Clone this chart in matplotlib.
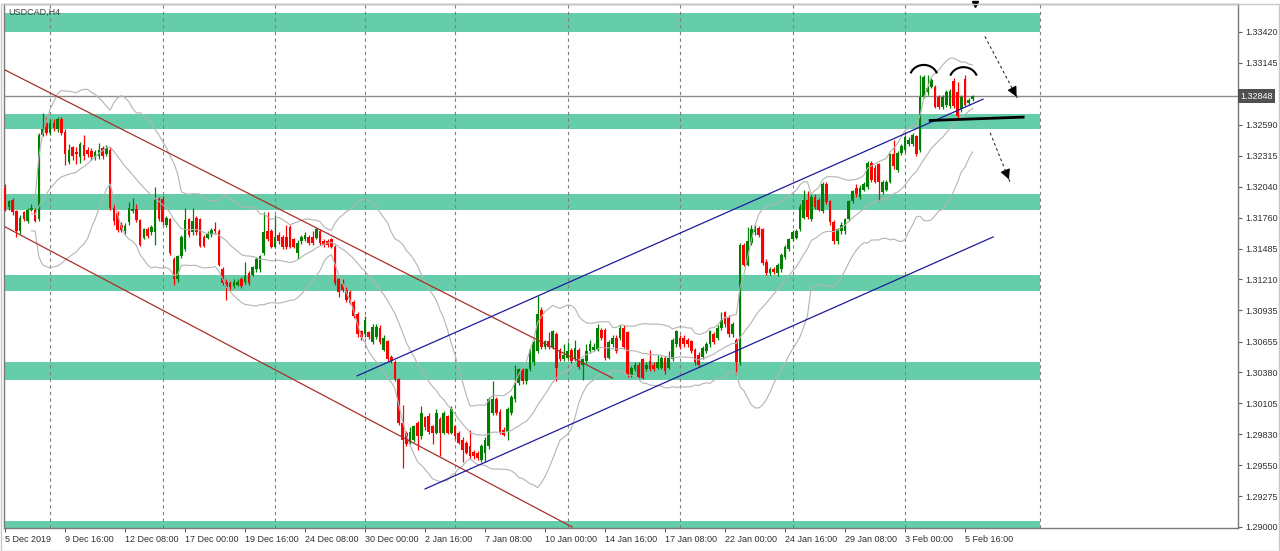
"""
USDCAD H4 chart with support/resistance zones, trend channels and Bollinger bands.
"""

import matplotlib
matplotlib.use("Agg")
import matplotlib.pyplot as plt
import matplotlib.transforms as mtransforms
from matplotlib.patches import Rectangle
import numpy as np
import pandas as pd

plt.rcParams["font.family"] = ["Liberation Sans", "DejaVu Sans"]

SYMBOL = "USDCAD,H4"
LAST_PRICE = 1.32848

# H4 candles, 5 Dec 2019 00:00 .. 6 Feb 2020 00:00
open_prices = [
    1.3203, 1.3186, 1.3192, 1.3182, 1.3164, 1.3181, 1.3173, 1.3183, 1.3183, 1.3175,
    1.3250, 1.3261, 1.3252, 1.3261, 1.3255, 1.3264, 1.3253, 1.3226, 1.3239, 1.3235,
    1.3230, 1.3241, 1.3237, 1.3236, 1.3230, 1.3231, 1.3238, 1.3233, 1.3237, 1.3185,
    1.3180, 1.3170, 1.3164, 1.3172, 1.3182, 1.3184, 1.3174, 1.3158, 1.3166, 1.3163,
    1.3163, 1.3193, 1.3193, 1.3170, 1.3175, 1.3139, 1.3121, 1.3142, 1.3148, 1.3175,
    1.3163, 1.3176, 1.3175, 1.3159, 1.3158, 1.3161, 1.3166, 1.3164, 1.3130, 1.3119,
    1.3118, 1.3115, 1.3116, 1.3121, 1.3119, 1.3127, 1.3125, 1.3130, 1.3130, 1.3145,
    1.3164, 1.3164, 1.3150, 1.3161, 1.3159, 1.3159, 1.3168, 1.3157, 1.3145, 1.3155,
    1.3157, 1.3159, 1.3159, 1.3158, 1.3164, 1.3155, 1.3155, 1.3157, 1.3150, 1.3121,
    1.3117, 1.3112, 1.3110, 1.3101, 1.3090, 1.3075, 1.3072, 1.3074, 1.3065, 1.3070,
    1.3078, 1.3058, 1.3066, 1.3052, 1.3047, 1.3032, 1.2993, 1.2984, 1.2975, 1.2978,
    1.2993, 1.2981, 1.2998, 1.2999, 1.2990, 1.2984, 1.2996, 1.2984, 1.2999, 1.2984,
    1.2990, 1.2984, 1.2978, 1.2975, 1.2972, 1.2967, 1.2966, 1.2960, 1.2966, 1.2972,
    1.3002, 1.3014, 1.3003, 1.2987, 1.2985, 1.3002, 1.3014, 1.3029, 1.3041, 1.3030,
    1.3041, 1.3047, 1.3057, 1.3094, 1.3061, 1.3066, 1.3061, 1.3072, 1.3058, 1.3050,
    1.3051, 1.3058, 1.3050, 1.3058, 1.3045, 1.3048, 1.3057, 1.3058, 1.3058, 1.3076,
    1.3076, 1.3051, 1.3063, 1.3069, 1.3069, 1.3078, 1.3074, 1.3036, 1.3041, 1.3045,
    1.3050, 1.3041, 1.3048, 1.3045, 1.3042, 1.3042, 1.3051, 1.3042, 1.3050, 1.3063,
    1.3069, 1.3069, 1.3067, 1.3066, 1.3058, 1.3054, 1.3052, 1.3057, 1.3063, 1.3072,
    1.3069, 1.3078, 1.3092, 1.3087, 1.3072, 1.3067, 1.3047, 1.3152, 1.3134, 1.3154,
    1.3163, 1.3167, 1.3166, 1.3137, 1.3127, 1.3130, 1.3127, 1.3130, 1.3141, 1.3148,
    1.3157, 1.3158, 1.3166, 1.3176, 1.3192, 1.3175, 1.3195, 1.3192, 1.3182, 1.3206,
    1.3191, 1.3172, 1.3155, 1.3164, 1.3164, 1.3175, 1.3191, 1.3203, 1.3195, 1.3201,
    1.3204, 1.3225, 1.3221, 1.3224, 1.3199, 1.3201, 1.3208, 1.3233, 1.3219, 1.3234,
    1.3237, 1.3242, 1.3242, 1.3249, 1.3237, 1.3284, 1.3288, 1.3293, 1.3293, 1.3284,
    1.3275, 1.3277, 1.3276, 1.3298, 1.3288, 1.3273, 1.3300, 1.3279, 1.3282,
]
high_prices = [
    1.3206, 1.3192, 1.3194, 1.3183, 1.3179, 1.3182, 1.3185, 1.3188, 1.3185, 1.3252,
    1.3270, 1.3266, 1.3264, 1.3264, 1.3266, 1.3266, 1.3255, 1.3242, 1.3240, 1.3239,
    1.3244, 1.3250, 1.3239, 1.3238, 1.3237, 1.3243, 1.3240, 1.3241, 1.3239, 1.3188,
    1.3182, 1.3172, 1.3171, 1.3190, 1.3194, 1.3188, 1.3175, 1.3167, 1.3168, 1.3170,
    1.3204, 1.3195, 1.3196, 1.3178, 1.3176, 1.3141, 1.3143, 1.3161, 1.3185, 1.3176,
    1.3185, 1.3178, 1.3176, 1.3161, 1.3164, 1.3167, 1.3172, 1.3166, 1.3132, 1.3121,
    1.3120, 1.3121, 1.3121, 1.3123, 1.3137, 1.3129, 1.3133, 1.3141, 1.3143, 1.3181,
    1.3181, 1.3166, 1.3179, 1.3163, 1.3161, 1.3170, 1.3170, 1.3158, 1.3156, 1.3161,
    1.3163, 1.3161, 1.3164, 1.3167, 1.3166, 1.3157, 1.3157, 1.3158, 1.3152, 1.3123,
    1.3121, 1.3114, 1.3112, 1.3103, 1.3092, 1.3076, 1.3088, 1.3075, 1.3081, 1.3081,
    1.3080, 1.3071, 1.3067, 1.3054, 1.3049, 1.3033, 1.3009, 1.2986, 1.2989, 1.2991,
    1.2995, 1.3008, 1.2999, 1.3002, 1.2991, 1.3005, 1.2998, 1.3004, 1.3000, 1.3008,
    1.2991, 1.2986, 1.2980, 1.2977, 1.2987, 1.2969, 1.2968, 1.2974, 1.2980, 1.3016,
    1.3030, 1.3016, 1.3005, 1.2989, 1.3007, 1.3018, 1.3045, 1.3042, 1.3042, 1.3042,
    1.3060, 1.3067, 1.3106, 1.3096, 1.3067, 1.3074, 1.3076, 1.3074, 1.3060, 1.3063,
    1.3065, 1.3060, 1.3067, 1.3060, 1.3051, 1.3063, 1.3067, 1.3064, 1.3081, 1.3078,
    1.3078, 1.3067, 1.3071, 1.3071, 1.3080, 1.3080, 1.3075, 1.3044, 1.3047, 1.3047,
    1.3051, 1.3047, 1.3058, 1.3047, 1.3054, 1.3053, 1.3053, 1.3057, 1.3069, 1.3076,
    1.3071, 1.3071, 1.3069, 1.3067, 1.3060, 1.3056, 1.3062, 1.3065, 1.3076, 1.3074,
    1.3080, 1.3092, 1.3093, 1.3089, 1.3083, 1.3069, 1.3154, 1.3154, 1.3168, 1.3170,
    1.3170, 1.3169, 1.3167, 1.3139, 1.3132, 1.3132, 1.3136, 1.3145, 1.3152, 1.3158,
    1.3165, 1.3166, 1.3188, 1.3201, 1.3200, 1.3197, 1.3197, 1.3194, 1.3208, 1.3208,
    1.3192, 1.3174, 1.3167, 1.3172, 1.3176, 1.3192, 1.3201, 1.3206, 1.3205, 1.3208,
    1.3227, 1.3227, 1.3223, 1.3225, 1.3210, 1.3210, 1.3234, 1.3246, 1.3236, 1.3242,
    1.3250, 1.3248, 1.3252, 1.3250, 1.3304, 1.3304, 1.3304, 1.3301, 1.3295, 1.3286,
    1.3286, 1.3290, 1.3291, 1.3301, 1.3297, 1.3286, 1.3304, 1.3283, 1.3286,
]
low_prices = [
    1.3182, 1.3183, 1.3179, 1.3159, 1.3162, 1.3173, 1.3171, 1.3182, 1.3172, 1.3173,
    1.3249, 1.3250, 1.3250, 1.3254, 1.3253, 1.3250, 1.3223, 1.3224, 1.3228, 1.3224,
    1.3225, 1.3228, 1.3230, 1.3228, 1.3228, 1.3229, 1.3229, 1.3231, 1.3183, 1.3170,
    1.3163, 1.3163, 1.3162, 1.3170, 1.3180, 1.3172, 1.3151, 1.3157, 1.3158, 1.3161,
    1.3152, 1.3173, 1.3170, 1.3168, 1.3143, 1.3116, 1.3119, 1.3140, 1.3146, 1.3159,
    1.3161, 1.3161, 1.3150, 1.3150, 1.3157, 1.3159, 1.3162, 1.3133, 1.3116, 1.3103,
    1.3112, 1.3113, 1.3115, 1.3113, 1.3117, 1.3116, 1.3124, 1.3128, 1.3128, 1.3143,
    1.3155, 1.3149, 1.3149, 1.3153, 1.3148, 1.3148, 1.3149, 1.3149, 1.3139, 1.3153,
    1.3155, 1.3152, 1.3152, 1.3157, 1.3152, 1.3150, 1.3150, 1.3149, 1.3116, 1.3105,
    1.3110, 1.3101, 1.3099, 1.3087, 1.3070, 1.3067, 1.3070, 1.3068, 1.3063, 1.3068,
    1.3063, 1.3057, 1.3048, 1.3046, 1.3030, 1.2991, 1.2953, 1.2972, 1.2974, 1.2976,
    1.2969, 1.2979, 1.2987, 1.2983, 1.2974, 1.2983, 1.2963, 1.2983, 1.2983, 1.2983,
    1.2979, 1.2974, 1.2958, 1.2965, 1.2961, 1.2961, 1.2960, 1.2958, 1.2958, 1.2970,
    1.3000, 1.3000, 1.2983, 1.2981, 1.2978, 1.3000, 1.3012, 1.3027, 1.3028, 1.3028,
    1.3039, 1.3045, 1.3055, 1.3059, 1.3059, 1.3059, 1.3059, 1.3030, 1.3048, 1.3048,
    1.3050, 1.3046, 1.3048, 1.3041, 1.3031, 1.3046, 1.3055, 1.3057, 1.3057, 1.3067,
    1.3049, 1.3050, 1.3061, 1.3055, 1.3067, 1.3059, 1.3034, 1.3034, 1.3039, 1.3033,
    1.3032, 1.3039, 1.3039, 1.3039, 1.3041, 1.3041, 1.3037, 1.3041, 1.3048, 1.3061,
    1.3059, 1.3061, 1.3061, 1.3055, 1.3045, 1.3043, 1.3050, 1.3055, 1.3061, 1.3063,
    1.3067, 1.3076, 1.3079, 1.3070, 1.3070, 1.3036, 1.3045, 1.3133, 1.3133, 1.3152,
    1.3161, 1.3159, 1.3134, 1.3125, 1.3125, 1.3126, 1.3124, 1.3128, 1.3139, 1.3146,
    1.3155, 1.3157, 1.3164, 1.3175, 1.3175, 1.3173, 1.3184, 1.3182, 1.3180, 1.3188,
    1.3170, 1.3153, 1.3153, 1.3162, 1.3162, 1.3173, 1.3189, 1.3195, 1.3193, 1.3200,
    1.3202, 1.3208, 1.3207, 1.3191, 1.3197, 1.3200, 1.3207, 1.3220, 1.3217, 1.3232,
    1.3235, 1.3240, 1.3240, 1.3231, 1.3235, 1.3283, 1.3286, 1.3292, 1.3274, 1.3273,
    1.3273, 1.3275, 1.3274, 1.3274, 1.3263, 1.3271, 1.3276, 1.3277, 1.3280,
]
close_prices = [
    1.3183, 1.3191, 1.3181, 1.3164, 1.3176, 1.3175, 1.3183, 1.3185, 1.3173, 1.3250,
    1.3255, 1.3252, 1.3261, 1.3256, 1.3264, 1.3252, 1.3233, 1.3237, 1.3231, 1.3233,
    1.3242, 1.3231, 1.3233, 1.3230, 1.3235, 1.3237, 1.3231, 1.3238, 1.3185, 1.3173,
    1.3165, 1.3165, 1.3169, 1.3185, 1.3184, 1.3174, 1.3152, 1.3166, 1.3160, 1.3168,
    1.3192, 1.3175, 1.3172, 1.3176, 1.3145, 1.3121, 1.3142, 1.3159, 1.3174, 1.3161,
    1.3173, 1.3163, 1.3151, 1.3151, 1.3162, 1.3165, 1.3164, 1.3134, 1.3118, 1.3114,
    1.3114, 1.3119, 1.3119, 1.3115, 1.3124, 1.3118, 1.3132, 1.3139, 1.3142, 1.3163,
    1.3157, 1.3150, 1.3159, 1.3155, 1.3150, 1.3150, 1.3150, 1.3150, 1.3154, 1.3159,
    1.3161, 1.3154, 1.3154, 1.3166, 1.3154, 1.3152, 1.3152, 1.3150, 1.3118, 1.3110,
    1.3112, 1.3103, 1.3100, 1.3088, 1.3072, 1.3070, 1.3085, 1.3070, 1.3079, 1.3079,
    1.3065, 1.3069, 1.3050, 1.3048, 1.3032, 1.2993, 1.2978, 1.2974, 1.2985, 1.2990,
    1.2981, 1.3002, 1.2989, 1.2985, 1.2984, 1.3002, 1.2984, 1.3002, 1.2984, 1.3005,
    1.2981, 1.2975, 1.2969, 1.2966, 1.2963, 1.2963, 1.2962, 1.2972, 1.2978, 1.3014,
    1.3014, 1.3002, 1.2985, 1.2982, 1.3005, 1.3016, 1.3029, 1.3041, 1.3030, 1.3041,
    1.3058, 1.3065, 1.3090, 1.3061, 1.3066, 1.3061, 1.3075, 1.3042, 1.3050, 1.3054,
    1.3057, 1.3048, 1.3060, 1.3043, 1.3050, 1.3057, 1.3063, 1.3061, 1.3078, 1.3069,
    1.3051, 1.3065, 1.3069, 1.3057, 1.3078, 1.3061, 1.3036, 1.3042, 1.3045, 1.3034,
    1.3033, 1.3045, 1.3041, 1.3041, 1.3047, 1.3051, 1.3039, 1.3051, 1.3067, 1.3075,
    1.3061, 1.3063, 1.3063, 1.3057, 1.3047, 1.3045, 1.3060, 1.3063, 1.3075, 1.3065,
    1.3078, 1.3085, 1.3081, 1.3072, 1.3081, 1.3047, 1.3152, 1.3134, 1.3155, 1.3166,
    1.3168, 1.3161, 1.3136, 1.3127, 1.3130, 1.3128, 1.3134, 1.3143, 1.3150, 1.3157,
    1.3163, 1.3164, 1.3186, 1.3192, 1.3177, 1.3195, 1.3186, 1.3183, 1.3206, 1.3190,
    1.3172, 1.3155, 1.3166, 1.3170, 1.3175, 1.3191, 1.3200, 1.3197, 1.3203, 1.3206,
    1.3225, 1.3210, 1.3208, 1.3208, 1.3208, 1.3208, 1.3233, 1.3222, 1.3234, 1.3240,
    1.3248, 1.3246, 1.3250, 1.3233, 1.3284, 1.3302, 1.3292, 1.3299, 1.3275, 1.3275,
    1.3284, 1.3288, 1.3289, 1.3276, 1.3267, 1.3284, 1.3277, 1.3281, 1.3285,
]

# axis labels (one every 16 bars)
time_labels = [
    "5 Dec 2019", "9 Dec 16:00", "12 Dec 08:00", "17 Dec 00:00", "19 Dec 16:00",
    "24 Dec 08:00", "30 Dec 00:00", "2 Jan 16:00", "7 Jan 08:00", "10 Jan 00:00",
    "14 Jan 16:00", "17 Jan 08:00", "22 Jan 00:00", "24 Jan 16:00", "29 Jan 08:00",
    "3 Feb 00:00", "5 Feb 16:00",
]
week_start_bars = [12, 42, 72, 96, 120, 150, 180, 210, 240, 276]
price_ticks = [
    1.33420, 1.33145, 1.32590, 1.32315, 1.32040, 1.31760, 1.31485, 1.31210,
    1.30935, 1.30655, 1.30380, 1.30105, 1.29830, 1.29550, 1.29275, 1.29000,
]

# supply / demand zones
zone_lows = [1.3342, 1.3255, 1.3183, 1.3111, 1.3031, 1.2890]
zone_highs = [1.3359, 1.3269, 1.3197, 1.3125, 1.3047, 1.2905]
ZONE_END = 276

# drawn objects, (bar, price)
red_upper = ([0, 162], [1.3308, 1.3033])
red_lower = ([0, 151.2], [1.3168, 1.2900])
blue_upper = ([93.9, 260.8], [1.3035, 1.3282])
blue_lower = ([112, 263.5], [1.2934, 1.3159])
neck_line = ([246.7, 271.5], [1.3263, 1.3266])
arc_x = [245.0, 255.6]
arc_y = [1.3301, 1.3299]
ARC_HALF_W = 3.75      # bars
ARC_HALF_H = 0.00116   # price
arrow_starts = [(261.3, 1.3338), (262.7, 1.3252)]
arrow_ends = [(270.1, 1.3282), (268.0, 1.3208)]

W, H = 1280, 551
XLIM = (-0.3, 328.8)
YLIM = (1.28991, 1.33670)

df = pd.DataFrame({
    "open": open_prices, "high": high_prices,
    "low": low_prices, "close": close_prices,
})
mid = df["close"].rolling(20, min_periods=8).mean()
std = df["close"].rolling(20, min_periods=8).std(ddof=0)
bb_up = mid + 2 * std
bb_dn = mid - 2 * std

fig = plt.figure(figsize=(W / 100, H / 100), dpi=100)
fig.patch.set_facecolor("white")
ax = fig.add_axes([4 / W, 1 - 528 / H, (1238 - 4) / W, (528 - 4) / H])
ax.set_xlim(*XLIM)
ax.set_ylim(*YLIM)

# zones
for lo, hi in zip(zone_lows, zone_highs):
    ax.fill_between([XLIM[0], ZONE_END], lo, hi, color="#66CDAA", lw=0, zorder=1)

# week separators
for b in week_start_bars:
    ax.axvline(b, color="#7f7f7f", lw=0.8, ls=(0, (3, 3)), zorder=2)

# current price line
ax.axhline(LAST_PRICE, color="#8c8c8c", lw=1.0, zorder=3)

# candles
x = np.arange(len(df))
up = df["close"].values >= df["open"].values
colors = np.where(up, "#008000", "#ff0000")
ax.vlines(x, df["low"], df["high"], colors=colors, lw=0.9, zorder=4)
body = np.maximum(np.abs(df["close"] - df["open"]).values, 0.00003)
ax.bar(x, body, bottom=np.minimum(df["open"], df["close"]), width=0.72,
       color=colors, lw=0, zorder=5)

# bollinger bands
for s in (bb_up, mid, bb_dn):
    ax.plot(x, s, color="#b4b4b4", lw=0.8, zorder=6)

# channels
ax.plot(*red_upper, color="#a8302c", lw=0.9, zorder=7)
ax.plot(*red_lower, color="#a8302c", lw=0.9, zorder=7)
ax.plot(*blue_upper, color="#1c1c9c", lw=0.9, zorder=7)
ax.plot(*blue_lower, color="#1c1c9c", lw=0.9, zorder=7)
ax.plot(*neck_line, color="black", lw=2.0, zorder=8)

# shoulders (arc objects)
t = np.radians(np.linspace(25, 155, 40))
for cx, cy in zip(arc_x, arc_y):
    ax.plot(cx + ARC_HALF_W * np.cos(t), cy + ARC_HALF_H * np.sin(t),
            color="black", lw=1.5, zorder=8)

# projected moves
for (x0, y0), (x1, y1) in zip(arrow_starts, arrow_ends):
    ax.plot([x0, x1], [y0, y1], color="#303030", lw=0.8, ls=(0, (2.5, 2.5)), zorder=8)
    ax.annotate("", xy=(x1, y1), xytext=(x0 + 0.85 * (x1 - x0), y0 + 0.85 * (y1 - y0)),
                arrowprops=dict(arrowstyle="-|>,head_length=0.6,head_width=0.3",
                                color="black", lw=0.8), zorder=9)
ax.plot([258.7], [YLIM[1]], marker="v", color="black", ms=4, clip_on=False, zorder=9)

# axes
ax.yaxis.tick_right()
ax.set_yticks(price_ticks)
ax.set_yticklabels([f"{v:.5f}" for v in price_ticks])
ax.set_xticks(range(0, 16 * len(time_labels), 16))
ax.set_xticklabels(time_labels)
for lab in ax.get_xticklabels():
    lab.set_horizontalalignment("left")
ax.tick_params(axis="both", length=3, width=0.8, color="#606060",
               labelsize=6.5, labelcolor="#303030", pad=2)
for sp in ax.spines.values():
    sp.set_color("#7a7a7a")
    sp.set_linewidth(1.0)

trans = mtransforms.blended_transform_factory(ax.transAxes, ax.transData)
ax.text(1.002, LAST_PRICE, f"{LAST_PRICE:.5f}", transform=trans, ha="left", va="center",
        fontsize=6.5, color="white", zorder=10,
        bbox=dict(boxstyle="square,pad=0.25", fc="#505050", ec="none"))

ax.text(0.0035, 0.985, SYMBOL, transform=ax.transAxes, ha="left", va="center",
        fontsize=6.5, color="#404040", zorder=10)

fig.patches.append(Rectangle((0.5 / W, 0.5 / H), 1 - 2 / W, 1 - 4 / H,
                             transform=fig.transFigure, fill=False,
                             ec="#c8c8c8", lw=1))

fig.savefig("out.png", dpi=100)
